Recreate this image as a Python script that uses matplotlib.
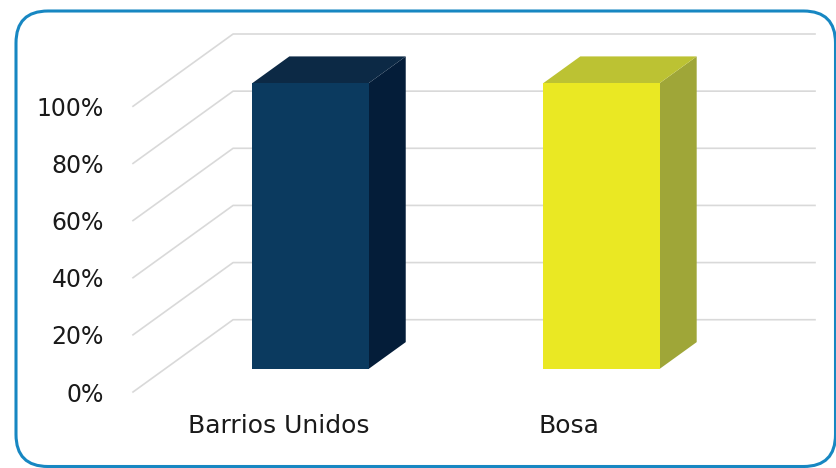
import matplotlib
matplotlib.use("Agg")
import matplotlib.pyplot as plt
from matplotlib.patches import FancyBboxPatch, Polygon, Rectangle

# Data
categories = ["Barrios Unidos", "Bosa"]
values = [100, 100]
front_colors = ["#0b3a5f", "#eae823"]
top_colors = ["#0c2945", "#bcc233"]
side_colors = ["#041d39", "#9fa638"]
yticks = [0, 20, 40, 60, 80, 100]

# Oblique "3D" settings (data units)
DX = 0.344      # depth shift in x
DY = 25.3       # depth shift in y
bar_w = 0.40
f0, f1 = 0.32, 0.69   # bar front / back depth fraction

plt.rcParams["font.family"] = ["DejaVu Sans"]

fig = plt.figure(figsize=(8.37, 4.68), dpi=100)

# Rounded frame in pixel coordinates (y up)
bg = fig.add_axes([0, 0, 1, 1])
bg.set_xlim(0, 837)
bg.set_ylim(0, 468)
bg.axis("off")
bg.add_patch(FancyBboxPatch((16, 1.5), 819.5, 455.5, boxstyle="round,pad=0,rounding_size=32",
                            fill=False, edgecolor="#1787c2", linewidth=2.2))

# Main axes: left = front of floor, right = back wall end
ax = fig.add_axes([133 / 837, 76 / 468, (815 - 133) / 837, (434 - 76) / 468])
ax.set_xlim(-0.5, 1.5 + DX)
ax.set_ylim(0, 100 + DY)
ax.patch.set_alpha(0)
for s in ax.spines.values():
    s.set_visible(False)

# Gridlines: side wall diagonal + back wall horizontal
for v in yticks:
    ax.plot([-0.5, -0.5 + DX, 1.5 + DX], [v, v + DY, v + DY],
            color="#d9d9d9", linewidth=1.2, clip_on=False, zorder=1)

# Bars
for i, (val, fc, tc, sc) in enumerate(zip(values, front_colors, top_colors, side_colors)):
    x0 = i - bar_w / 2 + f0 * DX
    y0 = f0 * DY
    x1 = x0 + bar_w
    ddx = (f1 - f0) * DX
    ddy = (f1 - f0) * DY
    ax.add_patch(Polygon([(x1, y0), (x1 + ddx, y0 + ddy), (x1 + ddx, y0 + ddy + val), (x1, y0 + val)],
                         closed=True, facecolor=sc, edgecolor="none", clip_on=False, zorder=3))
    ax.add_patch(Polygon([(x0, y0 + val), (x0 + ddx, y0 + ddy + val), (x1 + ddx, y0 + ddy + val), (x1, y0 + val)],
                         closed=True, facecolor=tc, edgecolor="none", clip_on=False, zorder=3))
    ax.add_patch(Rectangle((x0, y0), bar_w, val, facecolor=fc, edgecolor="none",
                           clip_on=False, zorder=4))

ax.set_yticks(yticks)
ax.set_yticklabels([f"{v}%" for v in yticks])
ax.set_xticks(range(len(categories)))
ax.set_xticklabels(categories)
ax.tick_params(axis="y", length=0, pad=21, labelsize=17, labelcolor="#1a1a1a")
ax.tick_params(axis="x", length=0, pad=16, labelsize=18, labelcolor="#1a1a1a")

fig.savefig("out.png", dpi=100)
